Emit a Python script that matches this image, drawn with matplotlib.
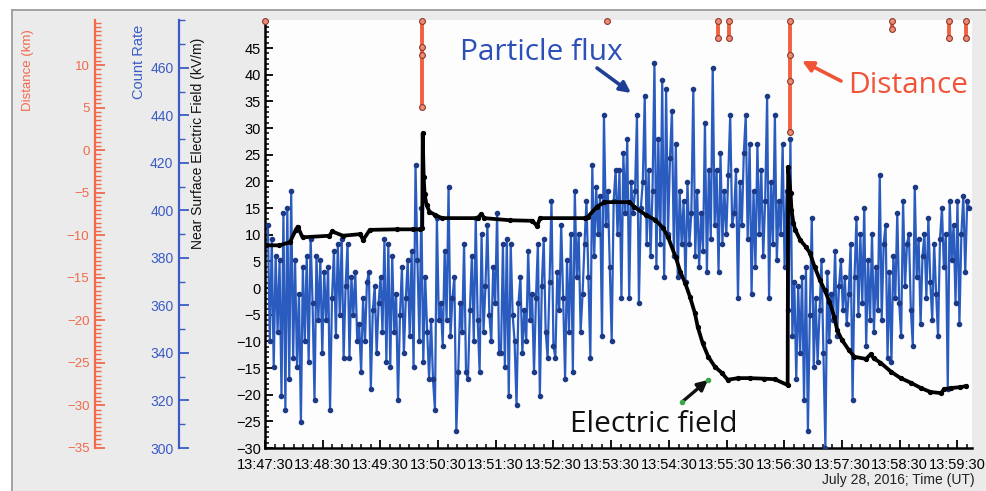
import matplotlib
matplotlib.use('Agg')
import matplotlib.pyplot as plt
import numpy as np
from matplotlib.ticker import MultipleLocator, FixedLocator
from matplotlib.lines import Line2D
from matplotlib.patches import Rectangle

plt.rcParams['font.family'] = ['Liberation Sans', 'DejaVu Sans']

# ---------------- data ----------------
tick_labels = ["13:47:30", "13:48:30", "13:49:30", "13:50:30", "13:51:30", "13:52:30",
               "13:53:30", "13:54:30", "13:55:30", "13:56:30", "13:57:30", "13:58:30",
               "13:59:30"]
tick_seconds = [0, 60, 120, 180, 240, 300, 360, 420, 480, 540, 600, 660, 720]

# particle count rate, sampled regularly from 13:47:33
blue_start = 3
blue_step = 2.02
blue_count = [
    394, 345, 388, 334, 381, 349, 379, 322, 399, 316, 401, 329, 408, 338, 379, 334, 365, 311, 376, 345, 381, 336, 388, 361, 320, 381, 354, 379, 340, 374,
    354, 376, 316, 363, 383, 347, 386, 356, 388, 338, 368, 386, 338, 372, 356, 374, 345, 352, 332, 363, 345, 370, 374, 325, 358, 368, 340, 361, 372, 349,
    388, 336, 386, 334, 381, 349, 365, 320, 356, 376, 340, 363, 379, 347, 383, 334, 419, 379, 345, 401, 336, 372, 349, 329, 354, 329, 316, 397, 354, 361,
    343, 383, 354, 410, 347, 363, 372, 307, 332, 361, 349, 386, 332, 329, 358, 381, 345, 397, 354, 332, 390, 349, 368, 394, 356, 345, 376, 361, 399, 340,
    340, 386, 334, 388, 322, 386, 356, 345, 318, 361, 372, 340, 358, 345, 383, 354, 365, 332, 363, 386, 322, 368, 388, 349, 338, 370, 404, 343, 338, 374,
    358, 394, 363, 329, 379, 349, 390, 332, 408, 372, 390, 349, 365, 386, 404, 372, 338, 419, 381, 410, 390, 406, 347, 440, 394, 408, 376, 345, 404, 417,
    390, 417, 363, 424, 399, 430, 363, 412, 399, 408, 440, 361, 401, 412, 448, 386, 417, 381, 408, 462, 376, 430, 386, 455, 372, 451, 390, 422, 442, 381,
    428, 372, 408, 386, 404, 370, 412, 386, 399, 451, 381, 408, 376, 399, 383, 437, 374, 417, 388, 460, 394, 417, 374, 424, 386, 408, 390, 415, 440, 394,
    399, 417, 363, 412, 394, 424, 440, 388, 428, 365, 408, 376, 428, 390, 417, 381, 404, 448, 363, 412, 386, 440, 379, 404, 390, 428, 376, 408, 358, 430,
    347, 370, 329, 368, 340, 372, 320, 376, 307, 356, 397, 334, 363, 336, 358, 379, 340, 300, 374, 345, 365, 354, 383, 347, 368, 379, 358, 372, 352, 365,
    386, 320, 372, 397, 356, 390, 361, 401, 343, 379, 354, 390, 349, 376, 358, 415, 354, 386, 394, 338, 374, 336, 381, 363, 399, 361, 347, 404, 368, 386,
    390, 358, 343, 410, 372, 388, 352, 381, 390, 363, 397, 370, 354, 386, 365, 347, 388, 401, 376, 390, 325, 404, 379, 394, 361, 404, 352, 390, 406, 374,
    404, 401,
]

# near surface electric field (kV/m), seconds after 13:47:30
field_t = [1, 15, 26, 32, 34, 39, 67, 70, 81, 99, 102, 109, 137, 154, 161, 163.5, 164, 165, 166, 168,
           171, 177, 184, 221, 225, 228, 255, 278, 283, 286, 333, 336, 345, 353, 379, 384, 396, 406, 414, 419,
           427, 432, 437, 442, 447, 450, 455, 461, 468, 475, 481, 492, 504, 519, 530, 543.5, 544, 546.5, 547.5, 549.5,
           551.5, 556.5, 562.5, 566.5, 571.5, 577, 582, 587, 592, 595, 600, 607, 613, 625, 630, 633, 640, 651, 661, 672,
           682, 692, 703, 706, 713, 723, 728.5]
field_kv = [8.0, 8.0, 8.6, 10.9, 11.5, 9.5, 9.8, 10.6, 9.8, 10.1, 9.0, 10.9, 11.0, 11.0, 11.0, 11.2, 29.0, 20.8, 17.6, 15.6,
            14.3, 13.7, 13.1, 13.1, 13.9, 13.1, 12.7, 12.6, 11.6, 13.1, 13.1, 13.4, 15.2, 16.1, 16.1, 15.2, 13.7, 12.75, 11.25, 9.6,
            5.8, 3.0, 0.9, -1.7, -4.7, -7.3, -10.3, -12.9, -14.8, -15.9, -17.2, -16.9, -16.9, -17.0, -17.1, -18.2, 22.7, 17.8, 14.6, 12.2,
            10.9, 9.0, 7.7, 6.6, 4.0, 1.5, -0.4, -2.6, -5.4, -7.9, -9.75, -11.6, -12.9, -13.3, -12.4, -13.2, -14.0, -15.7, -16.9, -17.8,
            -18.75, -19.5, -19.7, -19.0, -18.75, -18.6, -18.4]

# distance (km); NaN separates the visible pieces
nan = float('nan')
dist_t = [0, nan, 163, 163, 163, 163, nan, 356, nan, 471, 471, nan, 483, 483, nan,
          546, 546, 546, 546, nan, 652, 652, nan, 711, 711, nan, 729, 729]
dist_km = [15.2, nan, 15.2, 12.1, 11.2, 5.1, nan, 15.2, nan, 15.2, 13.2, nan, 15.2, 13.2, nan,
           15.2, 11.2, 8.1, 2.1, nan, 15.2, 14.2, nan, 15.2, 13.2, nan, 15.2, 13.2]

# ---------------- figure ----------------
W, H = 987, 491
fig = plt.figure(figsize=(W / 100, H / 100), dpi=100)
fig.patch.set_facecolor('white')


def fx(px):
    return px / W


def fy(py):
    return 1 - py / H


fig.patches.append(Rectangle((fx(12), 0), 1 - fx(12), fy(10), transform=fig.transFigure,
                             facecolor='#ebebeb', edgecolor='none', zorder=-10))
fig.add_artist(Line2D([fx(12), 1], [fy(10), fy(10)], color='#9c9c9c', lw=1.3))
fig.add_artist(Line2D([fx(12), fx(12)], [0, fy(10)], color='#9c9c9c', lw=1.3))

L, R, T, B = 265, 972, 20, 448
rect = [fx(L), fy(B), (R - L) / W, (B - T) / H]
FIELD_LIM = (-30, 50.25)
COUNT_LIM = (300, 480.2)
DIST_LIM = (-35, 15.3)
XLIM = (0, 735.2)

ax = fig.add_axes(rect)
ax.set_facecolor('#fdfdfe')
ax.set_xlim(*XLIM)
ax.set_ylim(*FIELD_LIM)
for s in ['top', 'right']:
    ax.spines[s].set_visible(False)
for s in ['left', 'bottom']:
    ax.spines[s].set_linewidth(1.8)
ax.yaxis.set_major_locator(FixedLocator(list(range(-30, 50, 5))))
ax.yaxis.set_minor_locator(MultipleLocator(1))
ax.xaxis.set_major_locator(FixedLocator(tick_seconds))
ax.xaxis.set_minor_locator(MultipleLocator(10))
ax.set_xticklabels(tick_labels)
ax.tick_params(axis='both', which='major', direction='in', length=6, width=1.3, labelsize=10.5, pad=3)
ax.tick_params(axis='both', which='minor', direction='in', length=3, width=1.1)
ax.tick_params(axis='x', which='major', pad=7)

# count rate series
axc = ax.twinx()
axc.set_ylim(*COUNT_LIM)
axc.set_xlim(*XLIM)
axc.axis('off')
blue_t = blue_start + np.arange(len(blue_count)) * blue_step
axc.plot(blue_t, blue_count, color='#2a5cc0', lw=1.6, marker='o', ms=3.0,
         mfc='#1c3a86', mec='#1c3a86', zorder=2)

# electric field series
axe = ax.twinx()
axe.set_ylim(*FIELD_LIM)
axe.set_xlim(*XLIM)
axe.axis('off')
axe.plot(field_t, field_kv, color='black', lw=2.7, marker='o', ms=2.8, zorder=3)

# distance series
axd = ax.twinx()
axd.set_ylim(*DIST_LIM)
axd.set_xlim(*XLIM)
axd.axis('off')
axd.plot(dist_t, dist_km, color='#f2613f', lw=2.8, marker='o', ms=4.2,
         mfc='#f08a74', mec='#8a3a2a', mew=0.8, clip_on=False, zorder=4)


def afr(px, py):
    return ((px - L) / (R - L), (B - py) / (B - T))


# annotations
axd.annotate('', xy=afr(631, 93), xytext=afr(597, 68), xycoords='axes fraction',
             textcoords='axes fraction',
             arrowprops=dict(arrowstyle='-|>', color='#1f3f94', lw=2.6, mutation_scale=16,
                             shrinkA=0, shrinkB=0))
axd.text(*afr(460, 60), 'Particle flux', transform=axd.transAxes, family=['Open Sans', 'DejaVu Sans'],
         fontsize=21.5, color='#2d50b8', ha='left', va='baseline')
axd.annotate('', xy=afr(802, 61), xytext=afr(841, 81), xycoords='axes fraction',
             textcoords='axes fraction',
             arrowprops=dict(arrowstyle='-|>', color='#ef5436', lw=2.6, mutation_scale=16,
                             shrinkA=0, shrinkB=0))
axd.text(*afr(848, 93), 'Distance', transform=axd.transAxes, family=['Open Sans', 'DejaVu Sans'],
         fontsize=21.5, color='#f0553a', ha='left', va='baseline')
axd.annotate('', xy=afr(708, 380), xytext=afr(682, 402), xycoords='axes fraction',
             textcoords='axes fraction',
             arrowprops=dict(arrowstyle='-|>', color='#111111', lw=2.4, mutation_scale=15,
                             shrinkA=0, shrinkB=0))
axd.plot([afr(682, 402)[0], afr(708, 380)[0]], [afr(682, 402)[1], afr(708, 380)[1]], 'o',
         color='#3aa84a', ms=3, transform=axd.transAxes, zorder=6)
axd.text(*afr(570, 432), 'Electric field', transform=axd.transAxes, family=['Open Sans', 'DejaVu Sans'],
         fontsize=21.5, color='#111111', ha='left', va='baseline')

# left side axes: distance and count rate
red = '#f2694c'
blue = '#3a5bc6'
axr = fig.add_axes([fx(95), fy(B), 0.0005, (B - T) / H])
axr.set_ylim(*DIST_LIM)
axr.patch.set_visible(False)
for s in ['top', 'right', 'bottom']:
    axr.spines[s].set_visible(False)
axr.spines['left'].set_color(red)
axr.spines['left'].set_linewidth(1.6)
axr.set_xticks([])
axr.yaxis.set_major_locator(FixedLocator(list(range(-35, 15, 5))))
axr.yaxis.set_minor_locator(MultipleLocator(0.5))
axr.tick_params(axis='y', which='major', direction='in', length=7, width=1.3, color=red,
                labelcolor=red, labelsize=9.5, pad=4)
axr.tick_params(axis='y', which='minor', direction='in', length=4, width=1.0, color=red)

axb = fig.add_axes([fx(179), fy(B), 0.0005, (B - T) / H])
axb.set_ylim(*COUNT_LIM)
axb.patch.set_visible(False)
for s in ['top', 'right', 'bottom']:
    axb.spines[s].set_visible(False)
axb.spines['left'].set_color(blue)
axb.spines['left'].set_linewidth(1.6)
axb.set_xticks([])
axb.yaxis.set_major_locator(FixedLocator(list(range(300, 480, 20))))
axb.yaxis.set_minor_locator(MultipleLocator(10))
axb.tick_params(axis='y', which='major', direction='in', length=7, width=1.3, color=blue,
                labelcolor=blue, labelsize=10, pad=4)
axb.tick_params(axis='y', which='minor', direction='in', length=4, width=1.0, color=blue)

fig.text(fx(28), fy(70), 'Distance (km)', rotation=90, color=red, fontsize=9.5, ha='center', va='center')
fig.text(fx(139), fy(62), 'Count Rate', rotation=90, color=blue, fontsize=10.5, ha='center', va='center')
fig.text(fx(198), fy(143), 'Near Surface Electric Field (kV/m)', rotation=90, color='#111111',
         fontsize=10, ha='center', va='center')
fig.text(fx(975), fy(480), 'July 28, 2016; Time (UT)', color='#222222', fontsize=10, ha='right', va='center')

fig.savefig('out.png', dpi=100, facecolor=fig.get_facecolor())
